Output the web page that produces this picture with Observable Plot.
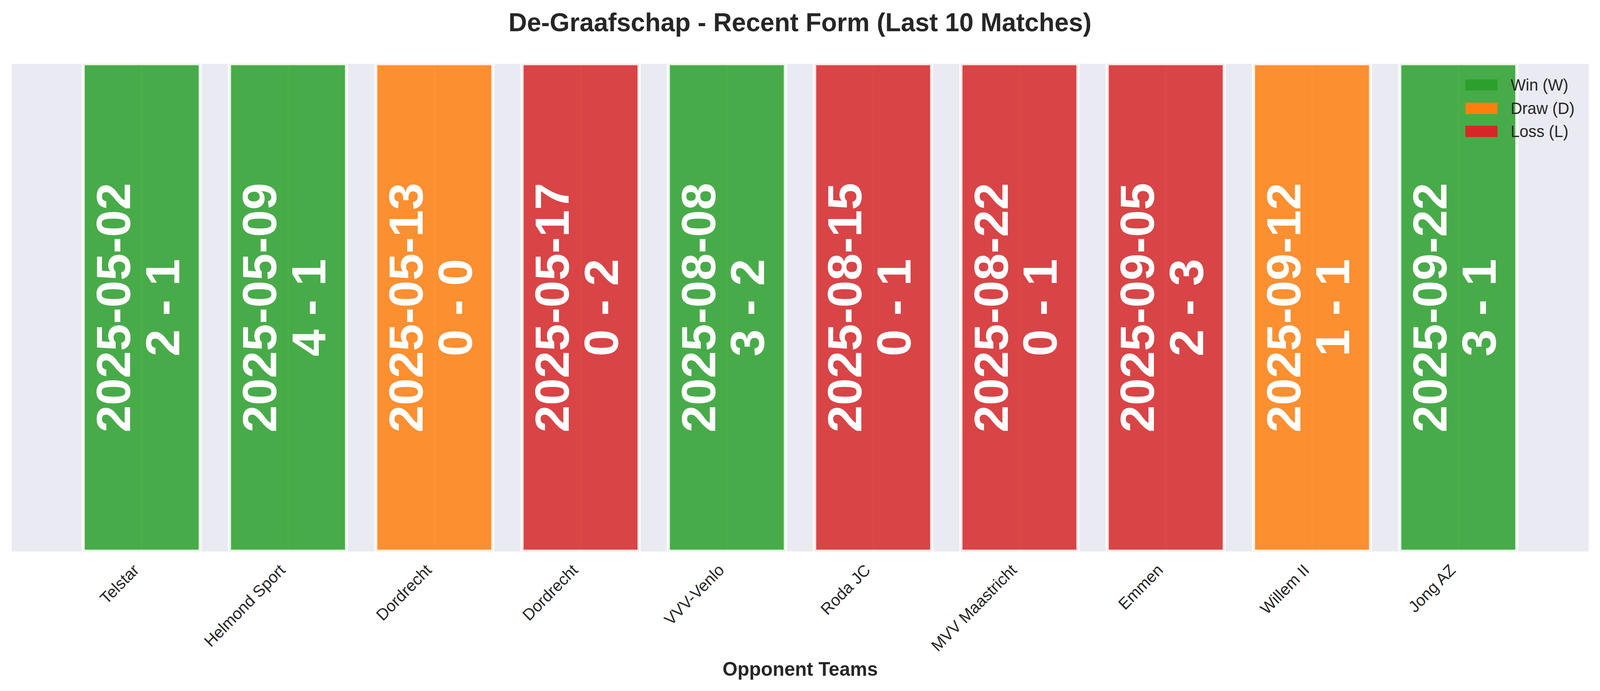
<!DOCTYPE html>
<html>
<head>
<meta charset="utf-8">
<script src="https://cdn.jsdelivr.net/npm/d3@7"></script>
<script src="https://cdn.jsdelivr.net/npm/@observablehq/plot@0.6"></script>
<style>
  html, body { margin: 0; padding: 0; overflow: hidden; background: #ffffff; }
  body { font-family: "Liberation Sans", Arial, sans-serif; color: #262626; }
  #wrap { position: relative; width: 4170px; height: 1770px; overflow: hidden; transform-origin: 0 0; }
  #title { height: 114px; line-height: 114px; text-align: center; font-size: 66.7px; font-weight: bold; color: #262626; white-space: nowrap; }
  #chart svg { display: block; }
  .lrow { position: absolute; left: 3819px; width: 340px; height: 29px; }
  .lpatch { position: absolute; left: 0; top: 0; width: 84px; height: 29px; }
  .ltext { position: absolute; left: 118px; top: 0; font-size: 41.7px; line-height: 29px; white-space: nowrap; color: #262626; }
</style>
</head>
<body>
<div id="wrap">
  <div id="title"></div>
  <div id="chart"></div>
</div>
<script>
// ---- data ----
const titleText = "De-Graafschap - Recent Form (Last 10 Matches)";
const xLabel = "Opponent Teams";
const teams = ["Telstar", "Helmond Sport", "Dordrecht", "Dordrecht", "VVV-Venlo", "Roda JC", "MVV Maastricht", "Emmen", "Willem II", "Jong AZ"];
const dates = ["2025-05-02", "2025-05-09", "2025-05-13", "2025-05-17", "2025-08-08", "2025-08-15", "2025-08-22", "2025-09-05", "2025-09-12", "2025-09-22"];
const scores = ["2 - 1", "4 - 1", "0 - 0", "0 - 2", "3 - 2", "0 - 1", "0 - 1", "2 - 3", "1 - 1", "3 - 1"];
const results = ["W", "W", "D", "L", "W", "L", "L", "L", "D", "W"];
const resultKeys = ["W", "D", "L"];
const resultLabels = ["Win (W)", "Draw (D)", "Loss (L)"];
const resultColors = ["#2ca02c", "#ff7f0e", "#d62728"];

// ---- build ----
document.getElementById("title").textContent = titleText;

const idx = d3.range(teams.length);
const rows = idx.map(i => ({i, team: teams[i], date: dates[i], score: scores[i], result: results[i]}));

const chart = Plot.plot({
  width: 4170,
  height: 1656,
  marginTop: 49,
  marginBottom: 358,
  marginLeft: 30,
  marginRight: 30,
  style: {fontFamily: "'Liberation Sans', Arial, sans-serif", fontSize: "41.7px", color: "#262626", background: "white", overflow: "visible"},
  x: {type: "linear", domain: [-0.89, 9.89]},
  y: {type: "linear", domain: [0, 1], axis: null},
  color: {type: "ordinal", domain: resultKeys, range: resultColors},
  marks: [
    Plot.frame({fill: "#EAEAF2", stroke: null}),
    Plot.ruleX(idx, {x: d => d, stroke: "white", strokeWidth: 4.17}),
    Plot.rect(rows, {
      x1: d => d.i - 0.4, x2: d => d.i + 0.4, y1: () => 0, y2: () => 1,
      fill: "result", fillOpacity: 0.85,
      stroke: "white", strokeOpacity: 0.85, strokeWidth: 8.3,
      clip: "frame"
    }),
    Plot.text(rows, {
      x: "i", y: () => 0.5,
      text: d => d.date + "\n" + d.score,
      rotate: -90, fill: "white", fontWeight: "bold", fontSize: 125,
      lineAnchor: "middle", textAnchor: "middle",
      lineHeight: 1.024, dx: -8
    }),
    Plot.axisX({
      ticks: idx, tickFormat: i => teams[i], tickRotate: -45,
      textAnchor: "end", lineAnchor: "top",
      tickSize: 0, tickPadding: 29.5, dx: -26, fontSize: 41.7, label: null
    }),
    Plot.text([xLabel], {frameAnchor: "bottom", lineAnchor: "middle", dy: 302, fontSize: 50, fontWeight: "bold", fill: "#262626"})
  ]
});
document.getElementById("chart").appendChild(chart);

// legend (upper right, inside axes, no frame)
const wrap = document.getElementById("wrap");
resultKeys.forEach((k, j) => {
  const row = document.createElement("div");
  row.className = "lrow";
  row.style.top = (203 + j * 59.5) + "px";
  const patch = document.createElement("div");
  patch.className = "lpatch";
  patch.style.background = resultColors[j];
  const txt = document.createElement("span");
  txt.className = "ltext";
  txt.textContent = resultLabels[j];
  row.appendChild(patch);
  row.appendChild(txt);
  wrap.appendChild(row);
});

// fit the 4170x1770 composition to the actual viewport
const kx = (window.innerWidth || 4170) / 4170;
const ky = (window.innerHeight || 1770) / 1770;
wrap.style.transform = `scale(${kx}, ${ky})`;
</script>
</body>
</html>
